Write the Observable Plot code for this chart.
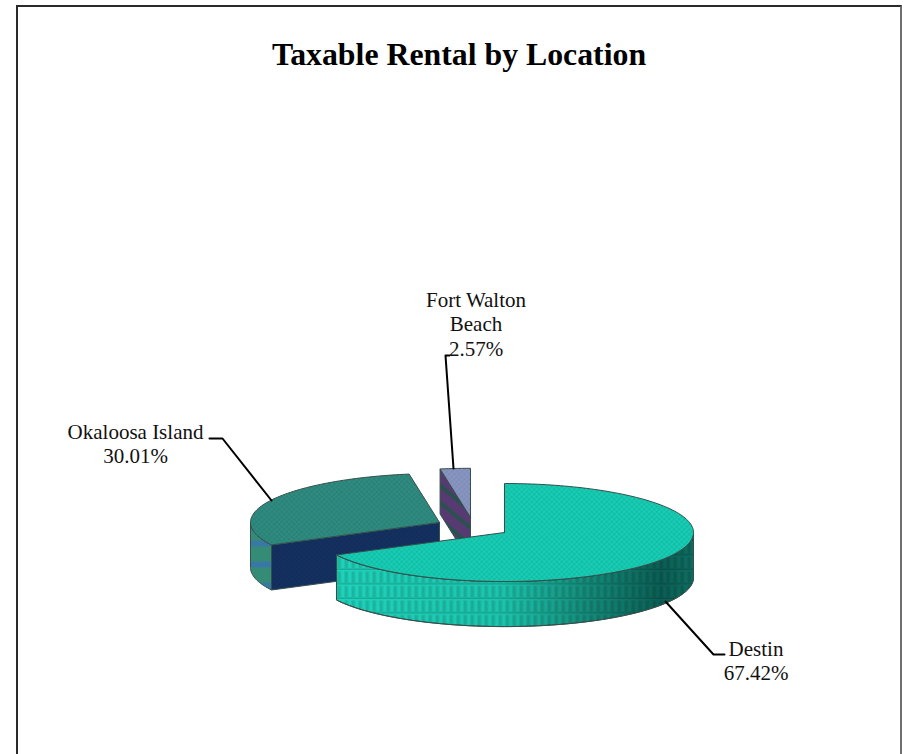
<!DOCTYPE html>
<html><head><meta charset="utf-8">
<script src="https://cdn.jsdelivr.net/npm/d3@7"></script>
<script src="https://cdn.jsdelivr.net/npm/@observablehq/plot@0.6"></script>
<style>
html,body{margin:0;padding:0;background:#fff;overflow:hidden;height:754px}
#frame{position:absolute;left:16px;top:5px;width:882px;height:780px;border:2px solid #2a2a2a;border-right-color:#707070}
h2{position:absolute;left:16px;width:886px;top:37px;margin:0;text-align:center;font:bold 31.8px/36px "Liberation Serif",serif;color:#000}
#chart{position:absolute;left:0;top:0}
</style></head><body>
<div id="frame"></div>
<h2>Taxable Rental by Location</h2>
<div id="chart"></div>
<script>
const categories = ["Destin", "Okaloosa Island", "Fort Walton Beach"];
const shares = [67.42, 30.01, 2.57];
const labelLines = [["Destin", "67.42%"], ["Okaloosa Island", "30.01%"], ["Fort Walton", "Beach", "2.57%"]];

// pie layout, in pie units (radius = 1); pixels come from the x and y scales
const depth = 0.92;
const explode = [[0, 0], [-0.344, -0.205], [-0.18, -0.31]];
const X = px => (px - 504) / 189, Y = py => (py - 532) / 49;

let acc = 0;
const slices = categories.map((name, i) => {
  const a0 = acc / 100 * 2 * Math.PI; acc += shares[i];
  const a1 = acc / 100 * 2 * Math.PI;
  return {name, a0, a1, dx: explode[i][0], dy: explode[i][1]};
});
const pt = (s, t, d = 0) => ({x: s.dx + Math.sin(t), y: s.dy - Math.cos(t) + d});
const apex = (s, d = 0) => ({x: s.dx, y: s.dy + d});
const arc = (s, a, b, d = 0) => {
  const n = Math.max(2, Math.ceil(Math.abs(b - a) * 40));
  return d3.range(n + 1).map(k => pt(s, a + (b - a) * k / n, d));
};
const topFace = s => [apex(s), ...arc(s, s.a0, s.a1), apex(s)];
const wall = (s, a, b) => { const u = arc(s, a, b); return [...u, ...arc(s, b, a, depth), u[0]]; };
const cut = (s, t) => [apex(s), pt(s, t), pt(s, t, depth), apex(s, depth), apex(s)];

const [destin, okaloosa, fwb] = slices;
const face = (pts, fill, stroke = "#34504c", strokeWidth = 1) =>
  Plot.line(pts, {x: "x", y: "y", fill, stroke, strokeWidth, strokeLinejoin: "round"});

const checker = (id, a, b) => `<pattern id="${id}" width="5" height="5" patternUnits="userSpaceOnUse"><rect width="5" height="5" fill="${a}"/><rect width="2.5" height="2.5" fill="${b}"/><rect x="2.5" y="2.5" width="2.5" height="2.5" fill="${b}"/></pattern>`;
const defs = `<defs>
${checker("pD", "#1bd0b0", "#10bbaa")}
${checker("pO", "#2f9078", "#2b7d80")}
${checker("pF", "#8c97bd", "#7d8cbc")}
${checker("pN", "#15315f", "#112c5c")}
<linearGradient id="gW" x1="0" x2="1" y1="0" y2="0"><stop offset="0" stop-color="#1fd2ba"/><stop offset=".46" stop-color="#1cc4ad"/><stop offset=".68" stop-color="#15907e"/><stop offset=".91" stop-color="#0b5e54"/><stop offset="1" stop-color="#0f6e62"/></linearGradient>
<pattern id="pW" width="7" height="14.5" patternUnits="userSpaceOnUse" y="4"><rect x="1" y="1.5" width="3.5" height="11" fill="#000" fill-opacity=".13"/><rect y="13" width="7" height="1.5" fill="#000" fill-opacity=".18"/></pattern>
<pattern id="pS" width="20" height="21" patternUnits="userSpaceOnUse"><rect width="20" height="21" fill="#358c76"/><rect y="15" width="20" height="6" fill="#3878a4"/></pattern>
<pattern id="pP" width="13" height="13" patternUnits="userSpaceOnUse" patternTransform="rotate(40)"><rect width="13" height="13" fill="#573a72"/><rect y="9" width="13" height="4" fill="#2a5050"/></pattern>
</defs>`;
const defsMark = () => { const g = d3.create("svg:g"); g.html(defs); return g.node(); };

const leader = (pts) => Plot.line(pts.map(([a, b]) => ({x: X(a), y: Y(b)})), {x: "x", y: "y", stroke: "#000", strokeWidth: 2});

// baseline of the first line of each label, and its centre
const labelAnchors = [[755.5, 655], [135, 438], [475.5, 306]];
const labelRows = labelLines.flatMap((lines, i) => lines.map((text, j) => ({
  text, x: X(labelAnchors[i][0]), y: Y(labelAnchors[i][1] + j * 24.5)
})));

const plot = Plot.plot({
  width: 909, height: 754, margin: 0,
  style: {background: "none", fontFamily: "'Liberation Serif',serif", overflow: "visible"},
  x: {domain: [-1, 1], range: [315, 693], axis: null},
  y: {domain: [-1, 1], range: [483, 581], axis: null},
  marks: [
    defsMark,
    face(cut(fwb, fwb.a0), "url(#pP)"),
    face(topFace(fwb), "url(#pF)"),
    face(wall(okaloosa, okaloosa.a0, 1.5 * Math.PI), "url(#pS)"),
    face(cut(okaloosa, okaloosa.a0), "url(#pN)"),
    face(topFace(okaloosa), "url(#pO)"),
    face(wall(destin, Math.PI / 2, destin.a1), "url(#gW)"),
    face(wall(destin, Math.PI / 2, destin.a1), "url(#pW)"),
    face(topFace(destin), "url(#pD)"),
    leader([[665, 601], [713, 654], [724, 654]]),
    leader([[271, 500], [222, 438], [209, 438]]),
    leader([[453, 468], [445, 355], [449, 355]]),
    Plot.text(labelRows, {x: "x", y: "y", text: "text", fontSize: 21, fill: "#111", lineAnchor: "bottom"})
  ]
});
document.getElementById("chart").append(plot);
</script>
</body></html>
